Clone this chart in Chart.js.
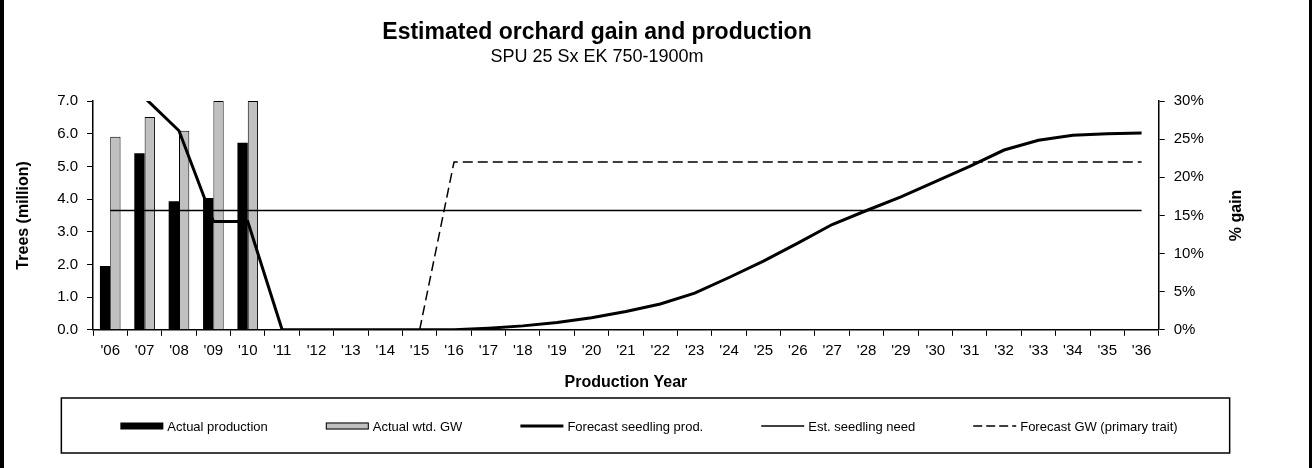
<!DOCTYPE html>
<html>
<head>
<meta charset="utf-8">
<script src="https://cdn.jsdelivr.net/npm/chart.js@4.4.1/dist/chart.umd.min.js"></script>
<style>
    html, body { margin: 0; padding: 0; background: #fff; }
    #wrap { width: 1312px; height: 468px; position: relative; }
</style>
</head>
<body>
<div id="wrap"><canvas id="chart"></canvas></div>
<script>
const years = ["'06", "'07", "'08", "'09", "'10", "'11", "'12", "'13", "'14", "'15", "'16", "'17", "'18", "'19", "'20", "'21", "'22", "'23", "'24", "'25", "'26", "'27", "'28", "'29", "'30", "'31", "'32", "'33", "'34", "'35", "'36"]

// trees (million), left axis
const actualProduction = [1.95, 5.4, 3.93, 4.03, 5.72, null, null, null, null, null, null, null, null, null, null, null, null, null, null, null, null, null, null, null, null, null, null, null, null, null, null]
const forecastProduction = [null, 7.1, 6.09, 3.31, 3.31, 0, 0, 0, 0, 0, 0, 0.05, 0.12, 0.22, 0.37, 0.56, 0.79, 1.12, 1.6, 2.1, 2.65, 3.22, 3.65, 4.07, 4.53, 5.0, 5.5, 5.8, 5.95, 6.0, 6.02]
const seedlingNeed = [3.65, 3.65, 3.65, 3.65, 3.65, 3.65, 3.65, 3.65, 3.65, 3.65, 3.65, 3.65, 3.65, 3.65, 3.65, 3.65, 3.65, 3.65, 3.65, 3.65, 3.65, 3.65, 3.65, 3.65, 3.65, 3.65, 3.65, 3.65, 3.65, 3.65, 3.65]

// % gain, right axis
const actualGW = [25.3, 27.9, 26.1, 30, 30, null, null, null, null, null, null, null, null, null, null, null, null, null, null, null, null, null, null, null, null, null, null, null, null, null, null]
const forecastGW = [null, null, null, null, null, null, null, null, null, 0, 22, 22, 22, 22, 22, 22, 22, 22, 22, 22, 22, 22, 22, 22, 22, 22, 22, 22, 22, 22, 22]

const leftTicks = [0, 1, 2, 3, 4, 5, 6, 7]
const rightTicks = [0, 5, 10, 15, 20, 25, 30]

const FONT = "'Liberation Sans', Arial, sans-serif"

// legend keys, in the order shown
const legendKeys = [
    { label: "Actual production", kind: "rect", fill: "#000", stroke: null },
    { label: "Actual wtd. GW", kind: "rect", fill: "#c0c0c0", stroke: "#000" },
    { label: "Forecast seedling prod.", kind: "line", stroke: "#000", width: 3, dash: [] },
    { label: "Est. seedling need", kind: "line", stroke: "#000", width: 1.5, dash: [] },
    { label: "Forecast GW (primary trait)", kind: "line", stroke: "#000", width: 1.5, dash: [9, 4] },
]

const framePlugin = {
    id: "frame",
    afterDraw(chart) {
        const ctx = chart.ctx
        const w = chart.width
        const h = chart.height
        ctx.save()

        // side edges
        ctx.fillStyle = "#000"
        ctx.fillRect(0, 0, 4, h)
        ctx.fillRect(w - 3, 0, 3, h)

        // title and subtitle
        const cx = 597
        ctx.textAlign = "center"
        ctx.textBaseline = "middle"
        ctx.font = "bold 23px " + FONT
        ctx.fillText("Estimated orchard gain and production", cx, 33)
        ctx.font = "18px " + FONT
        ctx.fillText("SPU 25 Sx EK 750-1900m", cx, 57)

        // right axis title, reading upwards
        ctx.save()
        ctx.translate(1237, (chart.chartArea.top + chart.chartArea.bottom) / 2)
        ctx.rotate(-Math.PI / 2)
        ctx.font = "bold 16px " + FONT
        ctx.fillText("% gain", 0, 0)
        ctx.restore()

        // legend
        ctx.font = "13px " + FONT
        ctx.textAlign = "left"
        const sw = 43, gap = 4, pad = 58
        const widths = legendKeys.map(k => sw + gap + ctx.measureText(k.label).width)
        const total = widths.reduce((a, b) => a + b, 0) + pad * (legendKeys.length - 1)
        let x = 649 - total / 2
        const ly = h - 42
        const boxL = x - 59, boxR = x + total + 52
        ctx.lineWidth = 1.5
        ctx.strokeStyle = "#000"
        ctx.strokeRect(boxL, h - 70, boxR - boxL, 55)
        legendKeys.forEach((k, i) => {
            if (k.kind === "rect") {
                ctx.fillStyle = k.fill
                ctx.fillRect(x, ly - 3.5, sw, 7)
                if (k.stroke) {
                    ctx.lineWidth = 1
                    ctx.strokeStyle = k.stroke
                    ctx.strokeRect(x + 0.5, ly - 3, sw - 1, 6)
                }
            } else {
                ctx.beginPath()
                ctx.setLineDash(k.dash)
                ctx.lineWidth = k.width
                ctx.strokeStyle = k.stroke
                ctx.moveTo(x, ly)
                ctx.lineTo(x + sw, ly)
                ctx.stroke()
                ctx.setLineDash([])
            }
            ctx.fillStyle = "#000"
            ctx.fillText(k.label, x + sw + gap, ly + 1)
            x += widths[i] + pad
        })
        ctx.restore()
    },
}

const chart = new Chart(document.getElementById("chart"), {
    type: "bar",
    data: {
        labels: years,
        datasets: [
            {
                type: "line",
                label: "Forecast seedling prod.",
                data: forecastProduction,
                yAxisID: "y",
                borderColor: "#000",
                borderWidth: 3,
                pointRadius: 0,
                tension: 0,
                order: 0,
            },
            {
                type: "line",
                label: "Est. seedling need",
                data: seedlingNeed,
                yAxisID: "y",
                borderColor: "#000",
                borderWidth: 1.3,
                pointRadius: 0,
                order: 0,
            },
            {
                type: "line",
                label: "Forecast GW (primary trait)",
                data: forecastGW,
                yAxisID: "y1",
                borderColor: "#000",
                borderWidth: 1.5,
                borderDash: [10, 5],
                pointRadius: 0,
                order: 0,
            },
            {
                label: "Actual production",
                data: actualProduction,
                yAxisID: "y",
                backgroundColor: "#000",
                borderWidth: 0,
                categoryPercentage: 0.6,
                barPercentage: 1,
                order: 1,
            },
            {
                label: "Actual wtd. GW",
                data: actualGW,
                yAxisID: "y1",
                backgroundColor: "#c0c0c0",
                borderColor: "#000",
                borderWidth: 1,
                categoryPercentage: 0.6,
                barPercentage: 1,
                order: 1,
            },
        ],
    },
    options: {
        responsive: true,
        maintainAspectRatio: false,
        animation: false,
        layout: { padding: { top: 101, left: 10, right: 61, bottom: 72 } },
        plugins: {
            legend: { display: false },
            title: { display: false },
            tooltip: { enabled: false },
        },
        scales: {
            x: {
                offset: true,
                grid: { display: true, offset: true, drawOnChartArea: false, color: "#000", tickLength: 6 },
                border: { color: "#000", width: 1.5 },
                ticks: { color: "#000", font: { family: FONT, size: 15 }, padding: 6, maxRotation: 0, autoSkip: false },
                title: { display: true, text: "Production Year", color: "#000", font: { family: FONT, size: 16, weight: "bold" }, padding: { top: 7, bottom: 4 } },
            },
            y: {
                position: "left",
                min: 0,
                max: 7,
                afterBuildTicks: (axis) => { axis.ticks = leftTicks.map(v => ({ value: v })) },
                grid: { drawOnChartArea: false, color: "#000", tickLength: 6 },
                border: { color: "#000", width: 1.5 },
                ticks: { color: "#000", font: { family: FONT, size: 15 }, padding: 9, callback: v => v.toFixed(1) },
                title: { display: true, text: "Trees (million)", color: "#000", font: { family: FONT, size: 16, weight: "bold" }, padding: { top: 4, bottom: 15 } },
            },
            y1: {
                position: "right",
                min: 0,
                max: 30,
                afterBuildTicks: (axis) => { axis.ticks = rightTicks.map(v => ({ value: v })) },
                grid: { drawOnChartArea: false, color: "#000", tickLength: 6 },
                border: { color: "#000", width: 1.5 },
                ticks: { color: "#000", font: { family: FONT, size: 15 }, padding: 9, callback: v => v + "%" },
                title: { display: true, text: "% gain", color: "rgba(0,0,0,0)", font: { family: FONT, size: 16, weight: "bold" }, padding: { top: 4, bottom: 15 } },
            },
        },
    },
    plugins: [framePlugin],
})
</script>
</body>
</html>
